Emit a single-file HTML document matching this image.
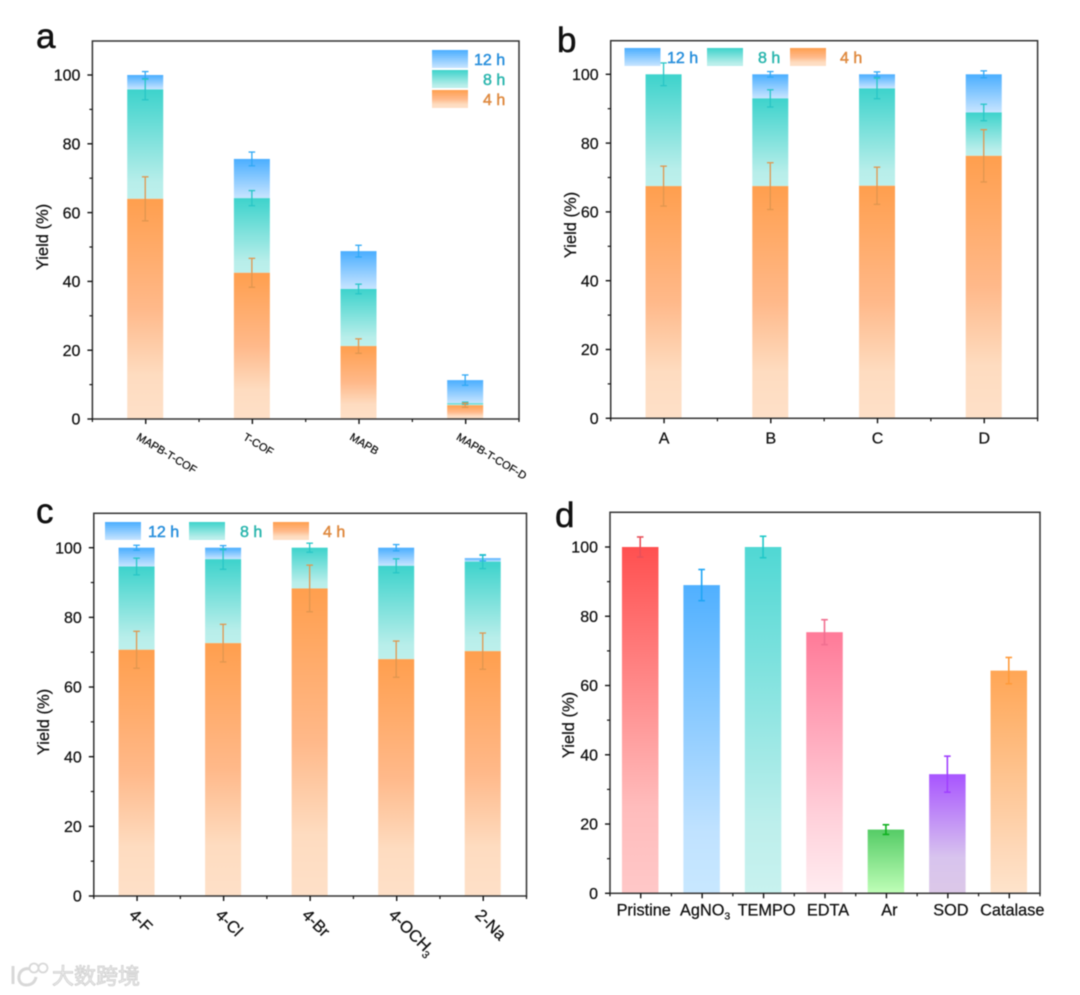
<!DOCTYPE html>
<html lang="en">
<head>
<meta charset="utf-8">
<title>Yield charts</title>
<style>
html,body{margin:0;padding:0;background:#fff;width:1080px;height:995px;overflow:hidden}
svg{display:block;filter:blur(0.55px)}
text{font-family:"Liberation Sans","Noto Sans CJK SC",sans-serif;fill:#111;stroke:#111;stroke-width:.25px}
</style>
</head>
<body>
<svg id="figure" xmlns="http://www.w3.org/2000/svg" width="1080" height="995" viewBox="0 0 1080 995">
<defs>
<linearGradient id="g4" x1="0" y1="0" x2="0" y2="1"><stop offset="0" stop-color="#ff9f4e"/><stop offset=".5" stop-color="#ffb98a"/><stop offset=".8" stop-color="#fedcc0"/><stop offset="1" stop-color="#fee0c8"/></linearGradient>
<linearGradient id="g8" x1="0" y1="0" x2="0" y2="1"><stop offset="0" stop-color="#3dd3cc"/><stop offset=".85" stop-color="#b8eeea"/><stop offset="1" stop-color="#bdf0ec"/></linearGradient>
<linearGradient id="g12" x1="0" y1="0" x2="0" y2="1"><stop offset="0" stop-color="#4aaeff"/><stop offset="1" stop-color="#c8e5ff"/></linearGradient>
<linearGradient id="gd0" x1="0" y1="0" x2="0" y2="1"><stop offset="0" stop-color="#ff5050"/><stop offset=".75" stop-color="#ffbcbc"/><stop offset="1" stop-color="#ffc8c8"/></linearGradient>
<linearGradient id="gd1" x1="0" y1="0" x2="0" y2="1"><stop offset="0" stop-color="#50b0ff"/><stop offset=".8" stop-color="#c0e2ff"/><stop offset="1" stop-color="#c8e8ff"/></linearGradient>
<linearGradient id="gd2" x1="0" y1="0" x2="0" y2="1"><stop offset="0" stop-color="#50d8d4"/><stop offset=".8" stop-color="#bdefec"/><stop offset="1" stop-color="#c8f2ef"/></linearGradient>
<linearGradient id="gd3" x1="0" y1="0" x2="0" y2="1"><stop offset="0" stop-color="#ff7a98"/><stop offset=".7" stop-color="#ffd0da"/><stop offset="1" stop-color="#ffecf0"/></linearGradient>
<linearGradient id="gd4" x1="0" y1="0" x2="0" y2="1"><stop offset="0" stop-color="#55cc66"/><stop offset="1" stop-color="#c0ffb8"/></linearGradient>
<linearGradient id="gd5" x1="0" y1="0" x2="0" y2="1"><stop offset="0" stop-color="#a855ff"/><stop offset=".7" stop-color="#d8c4ee"/><stop offset="1" stop-color="#dcc8e8"/></linearGradient>
<linearGradient id="gd6" x1="0" y1="0" x2="0" y2="1"><stop offset="0" stop-color="#ffa655"/><stop offset=".8" stop-color="#fed8b8"/><stop offset="1" stop-color="#fee4cc"/></linearGradient>
</defs>
<g>
  <path d="M13 966 L13 984 M30 969 C17 966 15 985 26 985 C32 985 35 982 36 977" fill="none" stroke="#d8d8d8" stroke-width="3"/>
  <circle cx="34" cy="968" r="4.5" fill="none" stroke="#d8d8d8" stroke-width="1.8"/>
  <circle cx="43" cy="968" r="4.5" fill="none" stroke="#d8d8d8" stroke-width="1.8"/>
  <text x="52" y="984" font-size="22" style="fill:#eeeeee;stroke:#cfcfcf;stroke-width:.8px">大数跨境</text>
</g>
</svg>
<script>
// Panel a
var aCategories = ['MAPB-T-COF', 'T-COF', 'MAPB', 'MAPB-T-COF-D'];
var a4h = [64, 42.5, 21.2, 4];
var a8h = [31.8, 21.7, 16.6, 0.6];
var a12h = [4.2, 11.4, 11, 6.7];
var a4hErr = [6.4, 4.2, 2.1, 0.6];
var a8hErr = [3, 2.2, 1.4, 0.3];
var a12hErr = [1, 2, 1.7, 1.5];
// Panel b
var bCategories = ['A', 'B', 'C', 'D'];
var b4h = [67.5, 67.5, 67.6, 76.3];
var b8h = [32.5, 25.5, 28.3, 12.6];
var b12h = [0, 7, 4.1, 11.1];
var b4hErr = [5.8, 6.8, 5.4, 7.6];
var b8hErr = [3.3, 2.5, 3, 2.4];
var b12hErr = [0, 0.8, 0.7, 1];
// Panel c
var cCategories = ['4-F', '4-Cl', '4-Br', '4-OCH3', '2-Na'];
var c4h = [70.7, 72.6, 88.3, 68, 70.3];
var c8h = [23.9, 24.1, 11.7, 26.8, 25.7];
var c12h = [5.4, 3.3, 0, 5.2, 1];
var c4hErr = [5.3, 5.4, 6.7, 5.2, 5.2];
var c8hErr = [2.4, 2.9, 1.3, 2, 2];
var c12hErr = [0.7, 0.6, 0, 0.9, 0.8];
// Panel d
var dCategories = ['Pristine', 'AgNO3', 'TEMPO', 'EDTA', 'Ar', 'SOD', 'Catalase'];
var dValues = [100, 89, 100, 75.4, 18.4, 34.4, 64.3];
var dErr = [2.9, 4.5, 3.1, 3.6, 1.4, 5.2, 3.8];
// Shared axis ticks
var yTickLabels = [0, 20, 40, 60, 80, 100];
var yMinorTicks = [10, 30, 50, 70, 90];
var legendLabels = ['12 h', '8 h', '4 h'];

var NS = 'http://www.w3.org/2000/svg';
var fig = document.getElementById('figure');

function mk(parent, tag, attrs, name, interactable) {
  var el = document.createElementNS(NS, tag);
  for (var k in attrs) { el.setAttribute(k, attrs[k]); }
  
  
  parent.appendChild(el);
  return el;
}
function slug(s) { return String(s).toLowerCase().replace(/[^a-z0-9]+/g, '-'); }

function panel(box, id) {
  var g = mk(fig, 'g', {}, 'panel-' + id, false);
  return {
    g: g,
    box: box,
    x: function (i, n) { return box.l + (box.r - box.l) * (i + 0.5) / n; },
    y: function (v) { return box.b + (box.y100 - box.b) * v / 100; }
  };
}

function drawAxes(p, id, cats, yLabelX, yLabelY) {
  var b = p.box, g = p.g, n = cats.length, i;
  mk(g, 'rect', {x: b.l, y: b.t, width: b.r - b.l, height: b.b - b.t, fill: 'none', stroke: '#333', 'stroke-width': 1.5}, id + '-plot-frame', false);
  yTickLabels.forEach(function (v) {
    var yy = p.y(v);
    mk(g, 'line', {x1: b.l - 5, x2: b.l, y1: yy, y2: yy, stroke: '#111', 'stroke-width': 1.4}, id + '-y-tick-' + v, false);
    var t = mk(g, 'text', {x: b.l - 12, y: yy + 5.7, 'text-anchor': 'end', 'font-size': 16}, id + '-y-tick-label-' + v, false);
    t.textContent = v;
  });
  yMinorTicks.forEach(function (v) {
    var yy = p.y(v);
    mk(g, 'line', {x1: b.l - 3, x2: b.l, y1: yy, y2: yy, stroke: '#111', 'stroke-width': 1.2}, id + '-y-minor-tick-' + v, false);
  });
  for (i = 0; i < n; i++) {
    var xx = p.x(i, n);
    mk(g, 'line', {x1: xx, x2: xx, y1: b.b, y2: b.b + 5, stroke: '#111', 'stroke-width': 1.4}, id + '-x-tick-' + slug(cats[i]), false);
  }
  for (i = 0; i <= n; i++) {
    var mx = b.l + (b.r - b.l) * i / n;
    mk(g, 'line', {x1: mx, x2: mx, y1: b.b, y2: b.b + 3, stroke: '#111', 'stroke-width': 1.2}, id + '-x-minor-tick-' + i, false);
  }
  var yt = mk(g, 'text', {x: yLabelX, y: yLabelY, 'text-anchor': 'middle', 'font-size': 16.5, transform: 'rotate(-90 ' + yLabelX + ' ' + yLabelY + ')'}, id + '-y-axis-title', false);
  yt.textContent = 'Yield (%)';
}

function errorBar(p, id, cx, top, err, color, capW, width) {
  var g = mk(p.g, 'g', {stroke: color, 'stroke-width': width, fill: 'none'}, id, false);
  mk(g, 'line', {x1: cx, x2: cx, y1: p.y(top + err), y2: p.y(top - err)}, id + '-stem', false);
  mk(g, 'line', {x1: cx - capW, x2: cx + capW, y1: p.y(top + err), y2: p.y(top + err)}, id + '-cap-top', false);
  mk(g, 'line', {x1: cx - capW, x2: cx + capW, y1: p.y(top - err), y2: p.y(top - err)}, id + '-cap-bottom', false);
}

function stacked(p, id, cats, s4, s8, s12, e4, e8, e12) {
  var n = cats.length, w = 36;
  cats.forEach(function (c, i) {
    var cx = p.x(i, n) - 0.5, k = id + '-' + slug(c);
    var t4 = s4[i], t8 = t4 + s8[i], t12 = t8 + s12[i];
    if (s12[i] > 0) { mk(p.g, 'rect', {x: cx - w / 2, y: p.y(t12), width: w, height: p.y(t8) - p.y(t12), fill: 'url(#g12)'}, k + '-bar-12h', false); }
    if (s8[i] > 0) { mk(p.g, 'rect', {x: cx - w / 2, y: p.y(t8), width: w, height: p.y(t4) - p.y(t8), fill: 'url(#g8)'}, k + '-bar-8h', false); }
    mk(p.g, 'rect', {x: cx - w / 2, y: p.y(t4), width: w, height: p.y(0) - p.y(t4), fill: 'url(#g4)'}, k + '-bar-4h', false);
  });
  cats.forEach(function (c, i) {
    var cx = p.x(i, n) - 0.5, k = id + '-' + slug(c);
    var t4 = s4[i], t8 = t4 + s8[i], t12 = t8 + s12[i];
    if (e12[i] > 0 && s12[i] > 0) { errorBar(p, k + '-error-12h', cx, t12, e12[i], '#30a8f5', 3.3, 1.3); }
    errorBar(p, k + '-error-8h', cx, t8, e8[i], '#28c6c6', 3.3, 1.3);
    errorBar(p, k + '-error-4h', cx, t4, e4[i], '#e0964f', 3.3, 1.3);
  });
}

var legendFills = ['url(#g12)', 'url(#g8)', 'url(#g4)'];
var legendColors = ['#2a90dc', '#2cb6ae', '#df8a40'];
function legendItem(p, id, idx, sx, sy, tx, ty) {
  var g = mk(p.g, 'g', {}, id + '-legend-entry-' + slug(legendLabels[idx]), true);
  mk(g, 'rect', {x: sx, y: sy, width: 36, height: 18, fill: legendFills[idx]}, id + '-legend-swatch-' + slug(legendLabels[idx]), false);
  var t = mk(g, 'text', {x: tx, y: ty, 'font-size': 16, style: 'fill:' + legendColors[idx] + ';stroke:' + legendColors[idx] + ';stroke-width:.5px'}, id + '-legend-label-' + slug(legendLabels[idx]), false);
  t.textContent = legendLabels[idx];
}

function panelLetter(id, x, y) {
  var t = mk(fig, 'text', {x: x, y: y, 'font-size': 35, style: 'stroke-width:.5px'}, 'panel-letter-' + id, false);
  t.textContent = id;
}

/* ---------- panel a ---------- */
var pa = panel({l: 92.4, r: 519, t: 41, b: 419, y100: 75}, 'a');
stacked(pa, 'a', aCategories, a4h, a8h, a12h, a4hErr, a8hErr, a12hErr);
drawAxes(pa, 'a', aCategories, 48, 237);
aCategories.forEach(function (c, i) {
  var x = pa.x(i, aCategories.length) - 10, y = 439;
  var t = mk(pa.g, 'text', {x: x, y: y, 'font-size': 11, transform: 'rotate(31 ' + x + ' ' + y + ')'}, 'a-x-tick-label-' + slug(c), false);
  t.textContent = c;
});
legendItem(pa, 'a', 0, 432, 50, 474, 65);
legendItem(pa, 'a', 1, 432, 70, 483, 85);
legendItem(pa, 'a', 2, 432, 90, 483, 105);
panelLetter('a', 36, 48);

/* ---------- panel b ---------- */
var pb = panel({l: 610.7, r: 1037.6, t: 40.7, b: 418.3, y100: 74.3}, 'b');
stacked(pb, 'b', bCategories, b4h, b8h, b12h, b4hErr, b8hErr, b12hErr);
drawAxes(pb, 'b', bCategories, 576, 225);
bCategories.forEach(function (c, i) {
  var t = mk(pb.g, 'text', {x: pb.x(i, bCategories.length), y: 443.5, 'text-anchor': 'middle', 'font-size': 16}, 'b-x-tick-label-' + slug(c), false);
  t.textContent = c;
});
legendItem(pb, 'b', 0, 624.5, 48, 667, 63);
legendItem(pb, 'b', 1, 707, 48, 758, 63);
legendItem(pb, 'b', 2, 790, 48, 840, 63);
panelLetter('b', 557, 52);

/* ---------- panel c ---------- */
var pc = panel({l: 93.8, r: 526.5, t: 513.3, b: 896, y100: 547.7}, 'c');
stacked(pc, 'c', cCategories, c4h, c8h, c12h, c4hErr, c8hErr, c12hErr);
drawAxes(pc, 'c', cCategories, 49, 722);
cCategories.forEach(function (c, i) {
  var x = pc.x(i, cCategories.length) - 9, y = 916;
  var t = mk(pc.g, 'text', {x: x, y: y, 'font-size': 16.5, transform: 'rotate(45 ' + x + ' ' + y + ')'}, 'c-x-tick-label-' + slug(c), false);
  if (/3$/.test(c)) {
    t.textContent = c.slice(0, -1);
    var s = mk(t, 'tspan', {dy: 4, 'font-size': 10.5}, 'c-x-tick-label-subscript', false);
    s.textContent = c.slice(-1);
  } else {
    t.textContent = c;
  }
});
legendItem(pc, 'c', 0, 105, 522, 148, 537);
legendItem(pc, 'c', 1, 189, 522, 240, 537);
legendItem(pc, 'c', 2, 273, 522, 323, 537);
panelLetter('c', 36, 523);

/* ---------- panel d ---------- */
var pd = panel({l: 610, r: 1040, t: 512.3, b: 893.3, y100: 547}, 'd');
var dErrColors = ['#e8505a', '#1fa5f5', '#20c8c8', '#f06f90', '#10b020', '#a040ff', '#ff9a3a'];
dCategories.forEach(function (c, i) {
  var cx = pd.x(i, dCategories.length) - 0.5, w = 36.5;
  mk(pd.g, 'rect', {x: cx - w / 2, y: pd.y(dValues[i]), width: w, height: pd.y(0) - pd.y(dValues[i]), fill: 'url(#gd' + i + ')'}, 'd-bar-' + slug(c), false);
  errorBar(pd, 'd-error-' + slug(c), cx, dValues[i], dErr[i], dErrColors[i], 3.3, 1.6);
});
drawAxes(pd, 'd', dCategories, 574, 725);
dCategories.forEach(function (c, i) {
  var x = pd.x(i, dCategories.length) + 3;
  var t = mk(pd.g, 'text', {x: x, y: 915.5, 'text-anchor': 'middle', 'font-size': 16.3}, 'd-x-tick-label-' + slug(c), false);
  if (/3$/.test(c)) {
    t.textContent = c.slice(0, -1);
    var s = mk(t, 'tspan', {dy: 4, 'font-size': 10.5}, 'd-x-tick-label-subscript', false);
    s.textContent = c.slice(-1);
  } else {
    t.textContent = c;
  }
});
panelLetter('d', 555, 527);
</script>
</body>
</html>
